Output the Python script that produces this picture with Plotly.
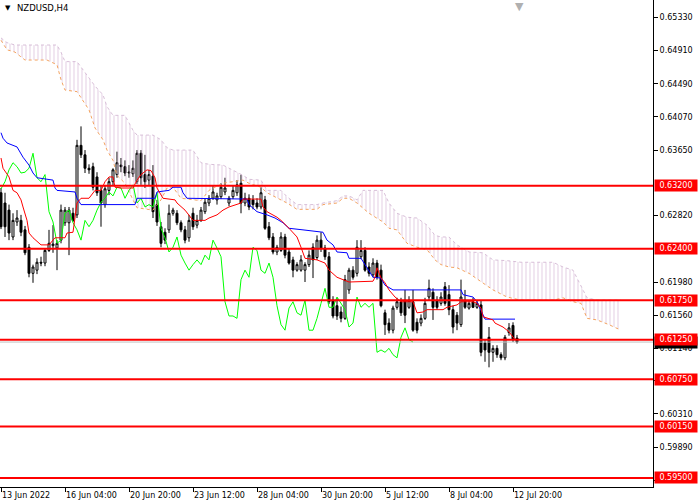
import plotly.graph_objects as go

# NZDUSD H4 candles, bar index 0..129 (13 Jun 2022 .. 13 Jul 2022)
open_ = [
    0.6311, 0.6298, 0.6289, 0.6255, 0.6274, 0.6276, 0.6264, 0.6242, 0.6209, 0.6213,
    0.6223, 0.6222, 0.6238, 0.6244, 0.6241, 0.6251, 0.6273, 0.6273, 0.6285, 0.6283,
    0.6371, 0.6359, 0.6342, 0.6344, 0.6331, 0.6314, 0.6296, 0.6314, 0.6325, 0.6334,
    0.6346, 0.6344, 0.6336, 0.6335, 0.6325, 0.6361, 0.6334, 0.6327, 0.6332, 0.6296,
    0.6268, 0.6261, 0.6264, 0.6285, 0.6285, 0.6273, 0.6264, 0.6254, 0.6285, 0.6270,
    0.6276, 0.6287, 0.6298, 0.6304, 0.6302, 0.6306, 0.6312, 0.6298, 0.6306, 0.6311,
    0.6323, 0.6298, 0.6304, 0.6302, 0.6298, 0.6293, 0.6302, 0.6268, 0.6255, 0.6236,
    0.6238, 0.6255, 0.6236, 0.6226, 0.6213, 0.6213, 0.6213, 0.6220, 0.6242, 0.6229,
    0.6251, 0.6241, 0.6230, 0.6175, 0.6168, 0.6160, 0.6152, 0.6188, 0.6213, 0.6209,
    0.6230, 0.6238, 0.6217, 0.6207, 0.6222, 0.6213, 0.6159, 0.6146, 0.6137, 0.6166,
    0.6173, 0.6175, 0.6166, 0.6173, 0.6147, 0.6146, 0.6152, 0.6179, 0.6185, 0.6175,
    0.6171, 0.6192, 0.6182, 0.6163, 0.6156, 0.6144, 0.6175, 0.6165, 0.6173, 0.6166,
    0.6169, 0.6121, 0.6128, 0.6109, 0.6114, 0.6106, 0.6102, 0.6134, 0.6143, 0.6127,
]
high = [
    0.6317, 0.6311, 0.6296, 0.6285, 0.6289, 0.6283, 0.6269, 0.6246, 0.6220, 0.6228,
    0.6230, 0.6241, 0.6264, 0.6270, 0.6251, 0.6296, 0.6293, 0.6293, 0.6292, 0.6378,
    0.6395, 0.6365, 0.6347, 0.6349, 0.6337, 0.6320, 0.6320, 0.6330, 0.6342, 0.6363,
    0.6355, 0.6352, 0.6346, 0.6352, 0.6365, 0.6365, 0.6359, 0.6340, 0.6346, 0.6302,
    0.6274, 0.6266, 0.6296, 0.6292, 0.6289, 0.6276, 0.6269, 0.6283, 0.6292, 0.6283,
    0.6293, 0.6304, 0.6308, 0.6320, 0.6311, 0.6323, 0.6330, 0.6307, 0.6320, 0.6327,
    0.6334, 0.6311, 0.6309, 0.6308, 0.6304, 0.6318, 0.6307, 0.6274, 0.6260, 0.6245,
    0.6261, 0.6259, 0.6240, 0.6230, 0.6223, 0.6232, 0.6223, 0.6238, 0.6247, 0.6257,
    0.6261, 0.6245, 0.6236, 0.6180, 0.6178, 0.6167, 0.6207, 0.6216, 0.6218, 0.6251,
    0.6251, 0.6242, 0.6223, 0.6228, 0.6226, 0.6220, 0.6163, 0.6152, 0.6168, 0.6178,
    0.6178, 0.6188, 0.6180, 0.6188, 0.6152, 0.6157, 0.6178, 0.6201, 0.6190, 0.6180,
    0.6185, 0.6198, 0.6194, 0.6168, 0.6160, 0.6201, 0.6188, 0.6175, 0.6178, 0.6175,
    0.6175, 0.6125, 0.6141, 0.6118, 0.6118, 0.6109, 0.6131, 0.6146, 0.6147, 0.6131,
]
low = [
    0.6265, 0.6255, 0.6251, 0.6251, 0.6269, 0.6256, 0.6232, 0.6204, 0.6197, 0.6208,
    0.6218, 0.6218, 0.6236, 0.6235, 0.6213, 0.6247, 0.6269, 0.6232, 0.6274, 0.6279,
    0.6355, 0.6336, 0.6335, 0.6314, 0.6307, 0.6268, 0.6292, 0.6308, 0.6320, 0.6330,
    0.6337, 0.6332, 0.6330, 0.6331, 0.6322, 0.6321, 0.6317, 0.6320, 0.6279, 0.6269,
    0.6242, 0.6246, 0.6260, 0.6282, 0.6270, 0.6261, 0.6247, 0.6249, 0.6264, 0.6266,
    0.6274, 0.6284, 0.6294, 0.6302, 0.6296, 0.6303, 0.6308, 0.6294, 0.6303, 0.6307,
    0.6285, 0.6294, 0.6289, 0.6290, 0.6290, 0.6290, 0.6264, 0.6251, 0.6233, 0.6232,
    0.6236, 0.6228, 0.6220, 0.6204, 0.6211, 0.6211, 0.6198, 0.6217, 0.6203, 0.6226,
    0.6236, 0.6226, 0.6170, 0.6152, 0.6150, 0.6147, 0.6150, 0.6183, 0.6201, 0.6205,
    0.6227, 0.6211, 0.6205, 0.6204, 0.6201, 0.6166, 0.6131, 0.6133, 0.6133, 0.6163,
    0.6155, 0.6146, 0.6164, 0.6135, 0.6133, 0.6142, 0.6150, 0.6175, 0.6150, 0.6163,
    0.6168, 0.6168, 0.6156, 0.6133, 0.6137, 0.6141, 0.6164, 0.6163, 0.6165, 0.6164,
    0.6104, 0.6097, 0.6090, 0.6097, 0.6102, 0.6099, 0.6099, 0.6130, 0.6122, 0.6120,
]
close = [
    0.6268, 0.6268, 0.6260, 0.6276, 0.6279, 0.6261, 0.6235, 0.6209, 0.6217, 0.6223,
    0.6222, 0.6238, 0.6247, 0.6246, 0.6247, 0.6289, 0.6289, 0.6289, 0.6276, 0.6371,
    0.6359, 0.6342, 0.6340, 0.6318, 0.6311, 0.6298, 0.6316, 0.6325, 0.6340, 0.6349,
    0.6344, 0.6336, 0.6337, 0.6342, 0.6361, 0.6330, 0.6325, 0.6334, 0.6287, 0.6274,
    0.6247, 0.6251, 0.6285, 0.6289, 0.6273, 0.6264, 0.6251, 0.6276, 0.6268, 0.6276,
    0.6289, 0.6299, 0.6304, 0.6312, 0.6307, 0.6318, 0.6317, 0.6304, 0.6314, 0.6321,
    0.6298, 0.6304, 0.6293, 0.6296, 0.6293, 0.6311, 0.6266, 0.6254, 0.6236, 0.6242,
    0.6255, 0.6232, 0.6222, 0.6213, 0.6220, 0.6226, 0.6220, 0.6232, 0.6226, 0.6251,
    0.6241, 0.6230, 0.6173, 0.6155, 0.6155, 0.6152, 0.6201, 0.6213, 0.6204, 0.6242,
    0.6238, 0.6213, 0.6209, 0.6222, 0.6204, 0.6168, 0.6144, 0.6137, 0.6165, 0.6173,
    0.6159, 0.6156, 0.6175, 0.6137, 0.6137, 0.6152, 0.6171, 0.6190, 0.6166, 0.6166,
    0.6179, 0.6171, 0.6163, 0.6141, 0.6146, 0.6179, 0.6166, 0.6171, 0.6166, 0.6171,
    0.6109, 0.6112, 0.6109, 0.6114, 0.6106, 0.6102, 0.6128, 0.6140, 0.6125, 0.6122,
]
bars = list(range(len(close)))

# Ichimoku lines (x in bar index)
tenkan_x = [0, 0.5, 2, 3, 4, 5, 5.5, 6.5, 7, 8, 10, 12, 13.5, 16, 16.5, 18, 19, 20, 22,
            23.5, 25, 26, 27, 28, 28.5, 30, 33, 34, 35, 36.5, 37.5, 38.5, 39, 40.5,
            43.5, 44, 46, 48, 51, 52, 54, 55.5, 57, 60, 60.5, 65, 65.5, 66.5, 69, 70,
            72, 74, 75, 76, 79, 81, 82, 83, 84, 86, 87, 93, 93.5, 94, 95, 96, 97,
            98.5, 100, 103, 103.5, 104, 105.5, 106.5, 110.5, 111.5, 114, 115, 118,
            119, 120, 120.5, 123, 123.5, 125.5, 127, 128.5]
tenkan = [0.6355, 0.6342, 0.6331, 0.6314, 0.6311, 0.6302, 0.6293, 0.6276, 0.6260,
          0.6254, 0.6245, 0.6245, 0.6254, 0.6254, 0.6260, 0.6261, 0.6298, 0.6304,
          0.6304, 0.6314, 0.6314, 0.6325, 0.6331, 0.6331, 0.6318, 0.6317, 0.6317,
          0.6327, 0.6334, 0.6340, 0.6339, 0.6330, 0.6317, 0.6304, 0.6302, 0.6298,
          0.6289, 0.6276, 0.6276, 0.6279, 0.6283, 0.6289, 0.6293, 0.6298, 0.6303,
          0.6303, 0.6293, 0.6287, 0.6280, 0.6276, 0.6266, 0.6255, 0.6242, 0.6228,
          0.6226, 0.6222, 0.6213, 0.6209, 0.6204, 0.6200, 0.6198, 0.6199, 0.6204,
          0.6216, 0.6203, 0.6197, 0.6188, 0.6179, 0.6173, 0.6173, 0.6165, 0.6159,
          0.6160, 0.6163, 0.6163, 0.6166, 0.6169, 0.6173, 0.6173, 0.6171, 0.6165,
          0.6154, 0.6150, 0.6146, 0.6141, 0.6135, 0.6125]

kijun_x = [0, 0.5, 1.5, 3, 4, 5.5, 7, 8, 9, 13, 13.5, 14, 18.5, 19, 20, 33.5, 34,
           38.5, 39, 42, 43, 45, 45.5, 46.5, 61.5, 62, 64, 66.5, 68.5, 70.5, 72,
           75.5, 80.5, 81.5, 83, 84, 86.5, 87, 90, 91.5, 93, 95, 96, 98, 115, 115.5,
           118, 119, 120, 121, 128.5]
kijun = [0.6387, 0.6380, 0.6374, 0.6371, 0.6369, 0.6356, 0.6346, 0.6336, 0.6330,
         0.6327, 0.6317, 0.6314, 0.6312, 0.6304, 0.6296, 0.6296, 0.6304, 0.6304,
         0.6312, 0.6314, 0.6318, 0.6318, 0.6311, 0.6304, 0.6303, 0.6296, 0.6287,
         0.6283, 0.6279, 0.6273, 0.6266, 0.6264, 0.6261, 0.6251, 0.6245, 0.6236,
         0.6235, 0.6228, 0.6228, 0.6216, 0.6204, 0.6203, 0.6194, 0.6188, 0.6188,
         0.6182, 0.6179, 0.6173, 0.6163, 0.6151, 0.6151]

# Kumo (projected 26 bars ahead)
cloud_x = [0, 1.5, 3.5, 6, 11.5, 14, 15, 16, 19, 20, 22, 23.5, 25.5, 26.5, 28, 29,
           31, 33, 34, 38, 40, 41.5, 43, 45, 48, 50, 52, 55.5, 58, 60.5, 62, 65,
           66.5, 70, 71.5, 74, 79, 80.5, 84, 85.5, 87, 89, 90.5, 92, 95.5, 97, 99,
           101.5, 104, 106.5, 108.5, 110, 112, 114, 117, 120.5, 123, 126.5, 130,
           138, 140.5, 143, 145, 146.5, 149, 152, 155]
span_b = [0.6507, 0.6501, 0.6498, 0.6498, 0.6498, 0.6498, 0.6489, 0.6477, 0.6477,
          0.6470, 0.6456, 0.6446, 0.6435, 0.6420, 0.6409, 0.6409, 0.6409, 0.6390,
          0.6384, 0.6384, 0.6378, 0.6368, 0.6365, 0.6365, 0.6365, 0.6349, 0.6347,
          0.6346, 0.6340, 0.6333, 0.6328, 0.6327, 0.6314, 0.6314, 0.6306, 0.6296,
          0.6296, 0.6298, 0.6301, 0.6307, 0.6307, 0.6302, 0.6314, 0.6314, 0.6314,
          0.6298, 0.6285, 0.6280, 0.6279, 0.6270, 0.6257, 0.6255, 0.6255, 0.6245,
          0.6236, 0.6235, 0.6226, 0.6225, 0.6223, 0.6223, 0.6217, 0.6213, 0.6192,
          0.6178, 0.6175, 0.6175, 0.6175]
span_a = [0.6504, 0.6492, 0.6489, 0.6479, 0.6479, 0.6473, 0.6454, 0.6441, 0.6439,
          0.6431, 0.6416, 0.6393, 0.6378, 0.6365, 0.6352, 0.6333, 0.6323, 0.6302,
          0.6292, 0.6289, 0.6302, 0.6317, 0.6318, 0.6304, 0.6302, 0.6301, 0.6314,
          0.6323, 0.6325, 0.6327, 0.6323, 0.6318, 0.6311, 0.6302, 0.6298, 0.6290,
          0.6290, 0.6296, 0.6298, 0.6304, 0.6304, 0.6298, 0.6292, 0.6285, 0.6274,
          0.6266, 0.6264, 0.6247, 0.6242, 0.6239, 0.6226, 0.6220, 0.6217, 0.6216,
          0.6209, 0.6197, 0.6188, 0.6179, 0.6175, 0.6175, 0.6178, 0.6173, 0.6171,
          0.6152, 0.6150, 0.6144, 0.6137]

# chikou = close drawn 26 bars back
chikou_shift = 26

levels = [0.6320, 0.6240, 0.6175, 0.6125, 0.6075, 0.6015, 0.5950]
last_price = 0.6122

# scale ticks (the ones under 0.63200 / 0.62400 labels are fully covered, left out)
price_ticks = [0.65330, 0.64910, 0.64490, 0.64070, 0.63650, 0.62820,
               0.61980, 0.61560, 0.61140, 0.60730, 0.60310, 0.59890, 0.59470]
date_ticks = [0, 16, 32, 48, 64, 80, 96, 112, 128]
date_labels = ["13 Jun 2022", "16 Jun 04:00", "20 Jun 20:00", "23 Jun 12:00",
               "28 Jun 04:00", "30 Jun 20:00", "5 Jul 12:00", "8 Jul 04:00",
               "12 Jul 20:00"]

FONT = "DejaVu Sans"
fig = go.Figure()

# cloud: span A first, span B filled down to it with vertical hatching
fig.add_trace(go.Scatter(x=cloud_x, y=span_a, mode="lines",
                         line=dict(color="#f4a460", width=1, dash="dot"),
                         hoverinfo="skip", showlegend=False))
fig.add_trace(go.Scatter(x=cloud_x, y=span_b, mode="lines",
                         line=dict(color="#d8bfd8", width=1, dash="dot"),
                         fill="tonexty", fillcolor="rgba(0,0,0,0)",
                         fillpattern=dict(shape="|", fgcolor="#d0acd0", size=4,
                                          solidity=0.3, fillmode="overlay"),
                         hoverinfo="skip", showlegend=False))

fig.add_trace(go.Candlestick(
    x=bars, open=open_, high=high, low=low, close=close,
    increasing=dict(line=dict(color="black", width=1), fillcolor="white"),
    decreasing=dict(line=dict(color="black", width=1), fillcolor="black"),
    whiskerwidth=0, hoverinfo="skip", showlegend=False))

fig.add_trace(go.Scatter(x=bars[:len(close) - chikou_shift], y=close[chikou_shift:],
                         mode="lines", line=dict(color="#00ff00", width=1),
                         hoverinfo="skip", showlegend=False))
fig.add_trace(go.Scatter(x=kijun_x, y=kijun, mode="lines",
                         line=dict(color="#0000ff", width=1),
                         hoverinfo="skip", showlegend=False))
fig.add_trace(go.Scatter(x=tenkan_x, y=tenkan, mode="lines",
                         line=dict(color="#ff0000", width=1),
                         hoverinfo="skip", showlegend=False))

# bid line
fig.add_shape(type="line", xref="paper", x0=0, x1=1, yref="y", y0=last_price,
              y1=last_price, line=dict(color="#c0c0c0", width=1))
for lv in levels:
    fig.add_shape(type="line", xref="paper", x0=0, x1=1, yref="y", y0=lv, y1=lv,
                  line=dict(color="#ff0000", width=2), layer="above")

annotations = [
    dict(xref="paper", yref="y", x=1, y=last_price, xanchor="left", xshift=1,
         text=f"{last_price:.5f}", showarrow=False, bgcolor="black", width=40,
         font=dict(family=FONT, size=8, color="white"), borderpad=1)
]
for lv in levels:
    annotations.append(dict(xref="paper", yref="y", x=1, y=lv, xanchor="left",
                            xshift=1, text=f"{lv:.5f}", showarrow=False,
                            bgcolor="#ff0000", width=40, borderpad=1,
                            font=dict(family=FONT, size=8, color="white")))
annotations.append(dict(xref="paper", yref="paper", x=0.004, y=1, xanchor="left",
                        yanchor="top", yshift=-2, text="▼", showarrow=False,
                        font=dict(family=FONT, size=7, color="black")))
annotations.append(dict(xref="paper", yref="paper", x=0.023, y=1, xanchor="left",
                        yanchor="top", yshift=-1, text="NZDUSD,H4", showarrow=False,
                        font=dict(family=FONT, size=8.5, color="black")))
annotations.append(dict(xref="paper", yref="paper", x=0.796, y=1, xanchor="center",
                        yanchor="top", yshift=2, text="▼", showarrow=False,
                        font=dict(family=FONT, size=11, color="#b0b0b0")))

fig.update_layout(
    width=700, height=500,
    margin=dict(l=0, r=47, t=0, b=13, autoexpand=False),
    paper_bgcolor="white", plot_bgcolor="white",
    font=dict(family=FONT, size=8, color="black"),
    annotations=annotations,
    xaxis=dict(range=[-0.25, 163], tickvals=date_ticks, ticktext=date_labels,
               ticks="outside", ticklen=4, tickcolor="black",
               ticklabelposition="outside right", showgrid=False, zeroline=False,
               showline=True, linecolor="black", linewidth=1,
               rangeslider=dict(visible=False), fixedrange=True),
    yaxis=dict(range=[0.59385, 0.6555], side="right", tickvals=price_ticks,
               ticktext=[f"{v:.5f}" for v in price_ticks], ticks="outside",
               ticklen=4, tickcolor="black", showgrid=False, zeroline=False,
               showline=True, linecolor="black", linewidth=1, fixedrange=True),
)

# page body has a default margin; remove it so the chart sits at the window's corner
fig.write_html("out.html", config={"displayModeBar": False},
               post_script="document.body.style.margin='0';")
